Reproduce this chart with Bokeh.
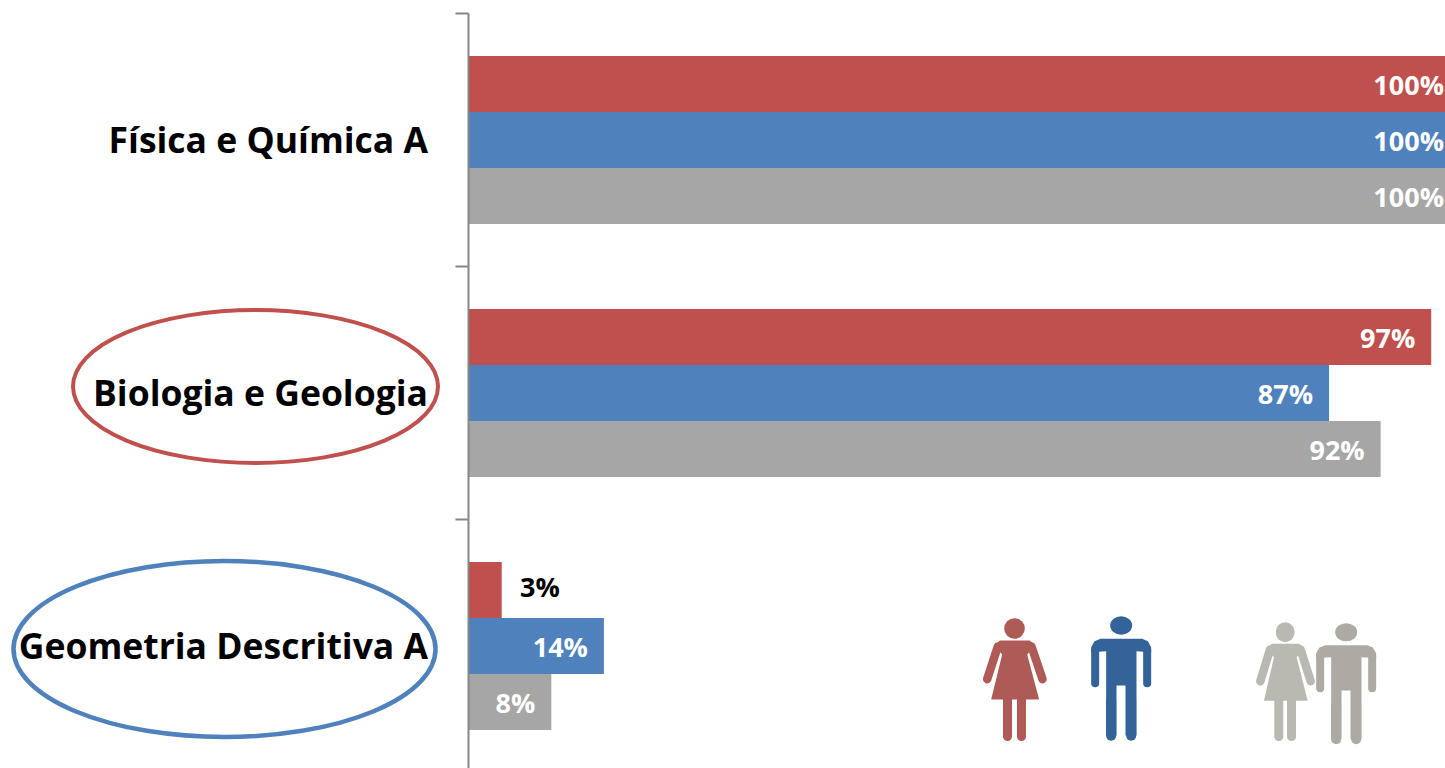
from bokeh.plotting import figure
from bokeh.models import FixedTicker, LinearAxis, ColumnDataSource
from bokeh.transform import dodge
from bokeh.core.properties import value
from bokeh.embed import file_html
from bokeh.resources import INLINE

categories = ["Física e Química A", "Biologia e Geologia", "Geometria Descritiva A"]
feminino = [100, 97.1, 3.4]
masculino = [100, 86.8, 13.7]
total = [100, 92.0, 8.4]
feminino_labels = ["100%", "97%", "3%"]
masculino_labels = ["100%", "87%", "14%"]
total_labels = ["100%", "92%", "8%"]

RED, BLUE, GREY = "#C0504D", "#4F81BD", "#A6A6A6"
W, H = 1445, 768
X0, PX_PER_PCT = 467.5, 9.92
Y0, PX_PER_CAT = 13, 253


def X(px):
    return (px - X0) / PX_PER_PCT


def Y(py):
    return (py - Y0) / PX_PER_CAT


p = figure(width=W, height=H, output_backend="svg", toolbar_location=None,
           x_range=(X(0), X(W)), y_range=(Y(H), Y(0)),
           min_border=0, min_border_left=0, min_border_right=0,
           min_border_top=0, min_border_bottom=0,
           outline_line_color=None, background_fill_color="white",
           border_fill_color="white", x_axis_location=None, y_axis_location=None)
p.styles = {"position": "absolute", "left": "0px", "top": "0px"}
p.grid.visible = False

centers = [i + 0.5 for i in range(len(categories))]
bar_h = 56 / PX_PER_CAT
series = [
    (feminino, feminino_labels, RED, -bar_h),
    (masculino, masculino_labels, BLUE, 0.0),
    (total, total_labels, GREY, bar_h),
]
FONT = value("Open Sans")
for vals, labs, col, off in series:
    src = ColumnDataSource(dict(y=centers, v=vals, t=labs,
                                c=["black" if v < 5 else "white" for v in vals],
                                dx=[58 if v < 5 else -16 for v in vals],
                                dy=[-4 if v < 5 else 0 for v in vals]))
    yy = dodge("y", off, range=p.y_range)
    p.hbar(y=yy, left=0, right="v", height=bar_h, color=col, line_color=None, source=src)
    p.text(x="v", y=dodge("y", off, range=p.y_range), text="t", source=src,
           text_color="c", text_font=FONT, text_font_style="bold", text_font_size="27px",
           text_baseline="middle", text_align="right", x_offset="dx", y_offset="dy")

label_ticks = [c - 1 / PX_PER_CAT for c in centers]
axis = LinearAxis(fixed_location=0, bounds=(0, 3))
axis.ticker = FixedTicker(ticks=label_ticks, minor_ticks=[0, 1, 2, 3])
axis.major_label_overrides = {c: t for c, t in zip(label_ticks, categories)}
axis.axis_line_color = "#868686"
axis.axis_line_width = 2
axis.major_tick_line_color = None
axis.major_tick_in = 0
axis.major_tick_out = 0
axis.minor_tick_line_color = "#868686"
axis.minor_tick_line_width = 2
axis.minor_tick_in = 0
axis.minor_tick_out = 13
axis.major_label_standoff = 27
axis.major_label_text_color = "black"
axis.major_label_text_font = "Open Sans"
axis.major_label_text_font_style = "bold"
axis.major_label_text_font_size = "35.5px"
p.add_layout(axis, "left")

# category highlight ellipses
p.ellipse(x=[X(255)], y=[Y(386)], width=[365 / PX_PER_PCT], height=[153 / PX_PER_CAT],
          fill_color=None, line_color=RED, line_width=4)
p.ellipse(x=[X(224)], y=[Y(648.5)], width=[422 / PX_PER_PCT], height=[176 / PX_PER_CAT],
          fill_color=None, line_color=BLUE, line_width=4.5)


# pictograms (zoom coords -> page px -> data)
def woman(fx, fy, col):
    def P(x, y):
        px, py = fx(x), fy(y)
        return X(px), Y(py)
    dress = [(118, 120), (208, 120), (224, 135), (200, 162), (236, 297), (92, 297), (125, 162), (102, 135)]
    pts = [P(*d) for d in dress]
    p.patch([a for a, _ in pts], [b for _, b in pts], color=col, line_color=None)
    for (x1, y1, x2, y2, w) in [(112, 138, 80, 236, 8.5), (213, 138, 246, 236, 8.5),
                                (141, 290, 141, 408, 9), (183, 290, 183, 408, 9)]:
        a, b = P(x1, y1), P(x2, y2)
        p.line([a[0], b[0]], [a[1], b[1]], line_color=col, line_width=w, line_cap="round")
    cx, cy = P(162, 84)
    p.ellipse(x=[cx], y=[cy], width=[(fx(193) - fx(131)) / PX_PER_PCT],
              height=[(fy(115) - fy(53)) / PX_PER_CAT], color=col, line_color=None)


def man(fx, fy, col):
    def P(x, y):
        px, py = fx(x), fy(y)
        return X(px), Y(py)
    body = [(420, 115), (545, 115), (562, 122), (572, 140), (572, 155), (528, 152), (528, 405), (495, 405),
            (495, 255), (468, 255), (468, 405), (437, 405), (437, 152), (392, 155), (392, 140), (402, 122)]
    pts = [P(*d) for d in body]
    p.patch([a for a, _ in pts], [b for _, b in pts], color=col, line_color=None)
    for (x1, y1, x2, y2, w) in [(404, 150, 404, 248, 8), (560, 150, 560, 248, 8),
                                (452, 300, 452, 406, 10), (512, 300, 512, 406, 10)]:
        a, b = P(x1, y1), P(x2, y2)
        p.line([a[0], b[0]], [a[1], b[1]], line_color=col, line_width=w, line_cap="round")
    cx, cy = P(482, 75)
    p.ellipse(x=[cx], y=[cy], width=[(fx(515) - fx(449)) / PX_PER_PCT],
              height=[(fy(103) - fy(47)) / PX_PER_CAT], color=col, line_color=None)


def zx(ox=0.0, s=1.0, c=0.0):
    return lambda x: 960 + (ox + c + (x - ox) * s) / 3


def zy(oy=0.0, s=1.0, c=0.0):
    return lambda y: 600 + (oy + c + (y - oy) * s) / 3


woman(zx(), zy(), "#AE5A56")
man(zx(), zy(), "#336399")
woman(zx(162, 0.91, 812), zy(418, 0.967), "#B9B9B1")
man(zx(482, 1.0, 675), zy(415, 0.97, 10), "#ACAAA2")

open("out.html", "w").write(file_html(p, INLINE))
